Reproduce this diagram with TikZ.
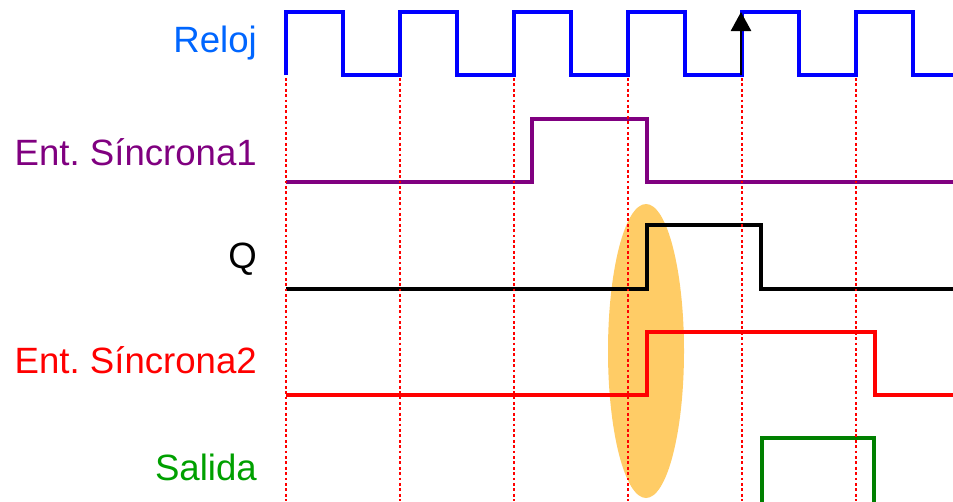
\documentclass[tikz,border=0pt]{standalone}
\usepackage{fontspec}
\setmainfont{Liberation Sans}
\usetikzlibrary{arrows.meta}
\definecolor{clkblue}{RGB}{0,0,255}
\definecolor{clktext}{RGB}{0,102,255}
\definecolor{sigpurple}{RGB}{128,0,128}
\definecolor{sigred}{RGB}{255,0,0}
\definecolor{siggreen}{RGB}{0,128,0}
\definecolor{saltext}{RGB}{0,160,0}
\definecolor{hilite}{RGB}{255,204,102}
\begin{document}
\frenchspacing
\begin{tikzpicture}[x=1pt,y=-1pt,
  lbl/.style={anchor=base east,inner sep=0pt,font=\fontsize{36.6}{40}\selectfont},
  wave/.style={line width=3.3pt,line join=miter},
  guide/.style={draw=sigred,line width=2.7pt,dash pattern=on 2.7pt off 2.7pt}]
\useasboundingbox (0,0) rectangle (953,501);
% highlight
\fill[hilite] (646,351) ellipse [x radius=38,y radius=147];
% labels
\node[lbl,text=clktext] (lreloj) at (257,52) {Reloj};
\node[lbl,text=sigpurple] (lent1) at (257,165) {Ent. Síncrona1};
\node[lbl,text=black] (lq) at (257,268) {Q};
\node[lbl,text=sigred] (lent2) at (257,373) {Ent. Síncrona2};
\node[lbl,text=saltext] (lsal) at (257,480) {Salida};
% clock
\draw[wave,clkblue] (286,75) -- (286,12) -- (343,12) -- (343,75) -- (400,75) -- (400,12)
  -- (457,12) -- (457,75) -- (514,75) -- (514,12) -- (571,12) -- (571,75) -- (628,75)
  -- (628,12) -- (685,12) -- (685,75) -- (742,75) -- (742,12) -- (799,12) -- (799,75)
  -- (856,75) -- (856,12) -- (913,12) -- (913,75) -- (953,75);
% Ent. Sincrona1
\draw[wave,sigpurple] (286,182) -- (532,182) -- (532,119) -- (647,119) -- (647,182) -- (953,182);
% Q
\draw[wave,black] (286,289) -- (647,289) -- (647,225) -- (761,225) -- (761,289) -- (953,289);
% Ent. Sincrona2
\draw[wave,sigred] (286,395) -- (647,395) -- (647,332) -- (875,332) -- (875,395) -- (953,395);
% Salida
\draw[wave,siggreen] (762,502) -- (762,438) -- (874,438) -- (874,502);
% guides
\foreach \x in {286,400,514,628,742,856}{
  \draw[guide] (\x,78) -- (\x,501);
}
% clock edge arrow
\coordinate (edgebot) at (741,75);
\coordinate (edgetop) at (741,12);
\draw[line width=2.6pt,-{Triangle[length=19pt,width=20pt]}] (edgebot) -- (edgetop);
\end{tikzpicture}
\end{document}
